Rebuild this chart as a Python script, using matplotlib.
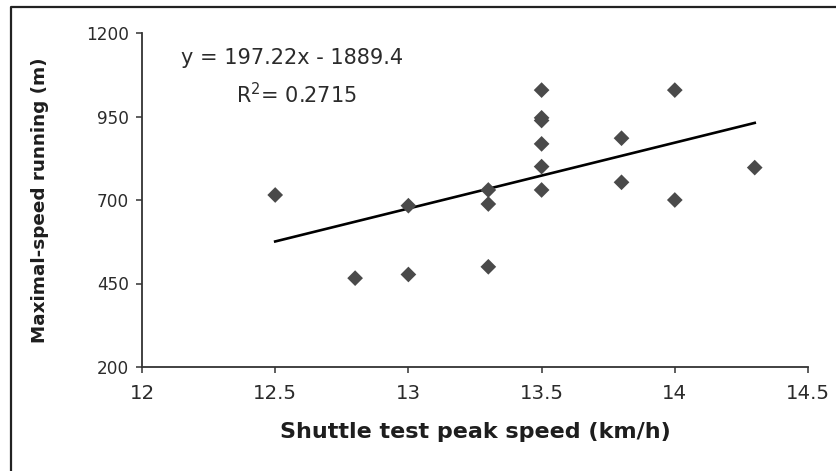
import matplotlib
matplotlib.use("Agg")
import matplotlib.pyplot as plt
from matplotlib.lines import Line2D
import numpy as np

plt.rcParams['font.family'] = ['DejaVu Sans']

# Data
shuttle_speed = [12.5, 12.8, 13.0, 13.0, 13.3, 13.3, 13.3,
                 13.5, 13.5, 13.5, 13.5, 13.5, 13.5,
                 13.8, 13.8, 14.0, 14.0, 14.3]
max_speed_running = [715, 466, 683, 477, 730, 688, 500,
                     1029, 946, 938, 868, 800, 730,
                     885, 753, 1029, 700, 797]
trend_slope = 197.22
trend_intercept = -1889.4
r_squared = 0.2715
x_ticks = [12, 12.5, 13, 13.5, 14, 14.5]
x_tick_labels = ["12", "12.5", "13", "13.5", "14", "14.5"]
y_ticks = [200, 450, 700, 950, 1200]
y_tick_labels = ["200", "450", "700", "950", "1200"]

W, H = 836, 471
fig = plt.figure(figsize=(W / 100, H / 100), dpi=100)
ax = fig.add_axes([142 / W, 1 - 367 / H, (808 - 142) / W, (367 - 33) / H])

ax.scatter(shuttle_speed, max_speed_running, marker='D', s=64,
           color='#4a4a4a', edgecolors='none', zorder=3)

xs = np.array([min(shuttle_speed), max(shuttle_speed)])
ax.plot(xs, trend_slope * xs + trend_intercept, color='black', lw=1.9, zorder=2)

ax.set_xlim(12, 14.5)
ax.set_ylim(200, 1200)
ax.set_xticks(x_ticks)
ax.set_xticklabels(x_tick_labels)
ax.set_yticks(y_ticks)
ax.set_yticklabels(y_tick_labels)

for side in ['top', 'right']:
    ax.spines[side].set_visible(False)
for side in ['left', 'bottom']:
    ax.spines[side].set_color('#333333')
    ax.spines[side].set_linewidth(1.3)
ax.tick_params(axis='both', direction='out', length=4, width=1.1,
               color='#333333', labelcolor='#2b2b2b')
ax.tick_params(axis='y', labelsize=12.2, pad=5.5)
ax.tick_params(axis='x', labelsize=14.2, pad=8)

ax.set_xlabel("Shuttle test peak speed (km/h)", fontsize=16,
              fontweight='bold', color='#1e1e1e', va='center')
ax.xaxis.set_label_coords(0.5, (367 - 432) / 334)
ax.set_ylabel("Maximal-speed running (m)", fontsize=13.2,
              fontweight='bold', color='#1e1e1e', va='center')
ax.yaxis.set_label_coords((40 - 142) / 666, 0.5)

fig.text(292 / W, 1 - 58 / H, f"y = {trend_slope}x - {abs(trend_intercept)}",
         fontsize=15, color='#2b2b2b', ha='center', va='center')
fig.text(296 / W, 1 - 95 / H, f"R$^2$= {r_squared}",
         fontsize=15, color='#2b2b2b', ha='center', va='center')

# outer frame (left and top edges visible)
fig.add_artist(Line2D([11 / W, 11 / W, 1.0], [0.0, 1 - 7 / H, 1 - 7 / H],
                      transform=fig.transFigure, color='#222222', lw=1.6))

fig.savefig("out.png", dpi=100)
